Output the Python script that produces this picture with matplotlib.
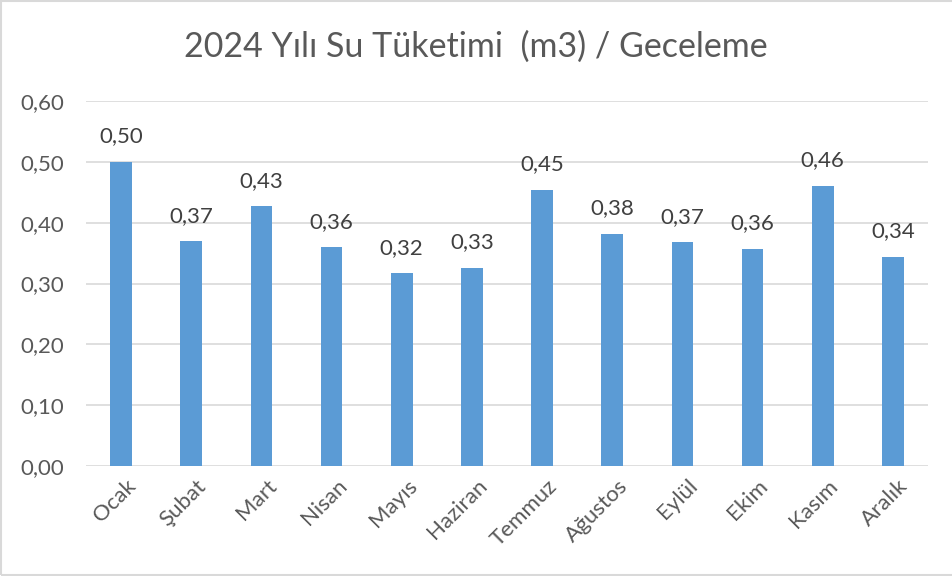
import matplotlib
matplotlib.use("Agg")
import matplotlib.pyplot as plt
import matplotlib.transforms as mtrans
from matplotlib.patches import Rectangle

months = ["Ocak", "Şubat", "Mart", "Nisan", "Mayıs", "Haziran", "Temmuz",
          "Ağustos", "Eylül", "Ekim", "Kasım", "Aralık"]
values = [0.500, 0.370, 0.427, 0.360, 0.317, 0.326, 0.454, 0.382, 0.368, 0.357, 0.461, 0.344]
yticks = [0.0, 0.1, 0.2, 0.3, 0.4, 0.5, 0.6]
title = "2024 Yılı Su Tüketimi  (m3) / Geceleme"

plt.rcParams['font.family'] = ['Lato', 'DejaVu Sans']

fig = plt.figure(figsize=(9.52, 5.76), dpi=100)
ax = fig.add_axes([86/952, 110/576, (928-86)/952, (466-101)/576])

x = list(range(len(months)))
ax.bar(x, values, width=0.31, color="#5B9BD5", zorder=3)

for xi, v in zip(x, values):
    ax.annotate(f"{v:.2f}".replace(".", ","), (xi, v), xytext=(0, 11),
                textcoords="offset points", ha="center", va="bottom",
                fontsize=16, color="#404040")

ax.set_xlim(-0.5, len(months) - 0.5)
ax.set_ylim(0, 0.6)
ax.set_yticks(yticks)
ax.set_yticklabels([f"{t:.2f}".replace(".", ",") for t in yticks])
ax.set_xticks(x)
ax.set_xticklabels(months, rotation=45, ha="right", rotation_mode="anchor")
ax.tick_params(axis="both", length=0, labelsize=16, colors="#595959")
ax.tick_params(axis="y", pad=16)
ax.tick_params(axis="x", pad=7)
offset = mtrans.ScaledTranslation(5/100, 0, fig.dpi_scale_trans)
for lab in ax.get_xticklabels():
    lab.set_transform(lab.get_transform() + offset)

ax.grid(axis="y", color="#D9D9D9", linewidth=1.2, zorder=0)
for s in ax.spines.values():
    s.set_visible(False)

fig.text(0.5, 1 - 47/576, title, ha="center", va="center", fontsize=24.5,
         color="#595959")

fig.patches.append(Rectangle((0.001, 0.001), 1.5, 0.997, transform=fig.transFigure,
                             fill=False, edgecolor="#D9D9D9", linewidth=1.5))

fig.savefig("out.png", dpi=100)
